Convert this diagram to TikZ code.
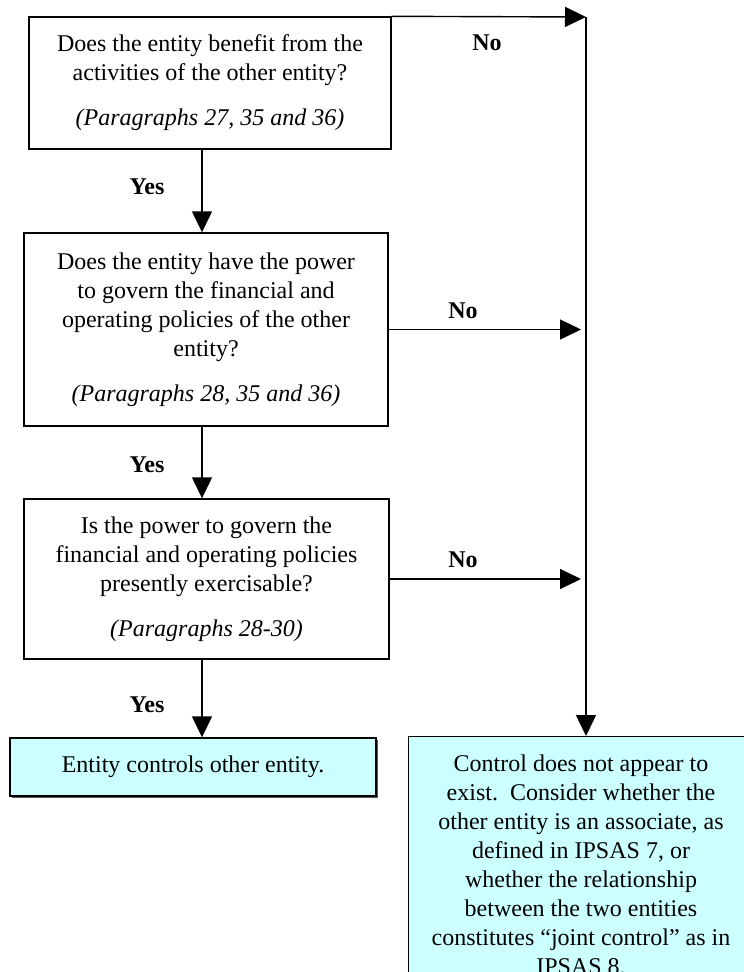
\documentclass[tikz,border=0pt]{standalone}
\usepackage{fontspec}
\setmainfont{Liberation Serif}
\usetikzlibrary{arrows.meta,shadows}
\definecolor{resultcyan}{HTML}{CCFFFF}
\begin{document}
\begin{tikzpicture}[x=1pt,y=-1pt,
  every node/.style={font=\fontsize{24}{29}\selectfont},
  qbox/.style={draw, line width=1.4pt, align=center, inner sep=0pt},
  rbox/.style={draw, line width=1.4pt, fill=resultcyan, align=center, inner sep=0pt,
    drop shadow={shadow xshift=1.5pt, shadow yshift=-1.5pt, opacity=1, fill=black!65}},
  conn/.style={line width=1.4pt, -{Triangle[length=21pt,width=20pt]}},
  lbl/.style={font=\fontsize{24}{29}\selectfont\bfseries, inner sep=0pt}]
\useasboundingbox (0,0) rectangle (744,972);
\clip (0,0) rectangle (744,972);

\node[qbox, minimum width=362pt, minimum height=132pt] (b1) at (210,83)
  {Does the entity benefit from the\\activities of the other entity?\\[16pt]\textit{(Paragraphs 27, 35 and 36)}};
\node[qbox, minimum width=364pt, minimum height=193pt] (b2) at (206,329.5)
  {Does the entity have the power\\to govern the financial and\\operating policies of the other\\entity?\\[16pt]\textit{(Paragraphs 28, 35 and 36)}};
\node[qbox, minimum width=365pt, minimum height=160pt] (b3) at (206.5,579)
  {Is the power to govern the\\financial and operating policies\\presently exercisable?\\[16pt]\textit{(Paragraphs 28-30)}};
\node[rbox, minimum width=366pt, minimum height=58pt] (b4) at (193,767)
  {Entity controls other entity.};
\node[rbox, anchor=north west, minimum width=346pt, minimum height=290pt] (b5) at (408,736) {};
\node[anchor=north, align=center, inner sep=0pt] (t5) at (581,755)
  {Control does not appear to\\exist.\ \ Consider whether the\\other entity is an associate, as\\defined in IPSAS 7, or\\whether the relationship\\between the two entities\\constitutes “joint control” as in\\IPSAS 8.};

\coordinate (ax) at (202,0);
\coordinate (c1) at (586,17);

\draw[conn] (b1.south -| ax) -- (b2.north -| ax);
\draw[conn] (b2.south -| ax) -- (b3.north -| ax);
\draw[conn] (b3.south -| ax) -- (b4.north -| ax);

\draw[conn] (b1.north east) -- (c1);
\draw[conn] (c1) -- (c1 |- b5.north);
\draw[conn, shorten >=5pt] (b2.east) -- (b2.east -| c1);
\draw[conn, shorten >=5pt] (b3.east) -- (b3.east -| c1);

\node[lbl] (no1) at (487,43) {No};
\node[lbl] (no2) at (463,311) {No};
\node[lbl] (no3) at (463,560) {No};
\node[lbl] (y1) at (147,187) {Yes};
\node[lbl] (y2) at (147,465) {Yes};
\node[lbl] (y3) at (147,705) {Yes};
\end{tikzpicture}
\end{document}
